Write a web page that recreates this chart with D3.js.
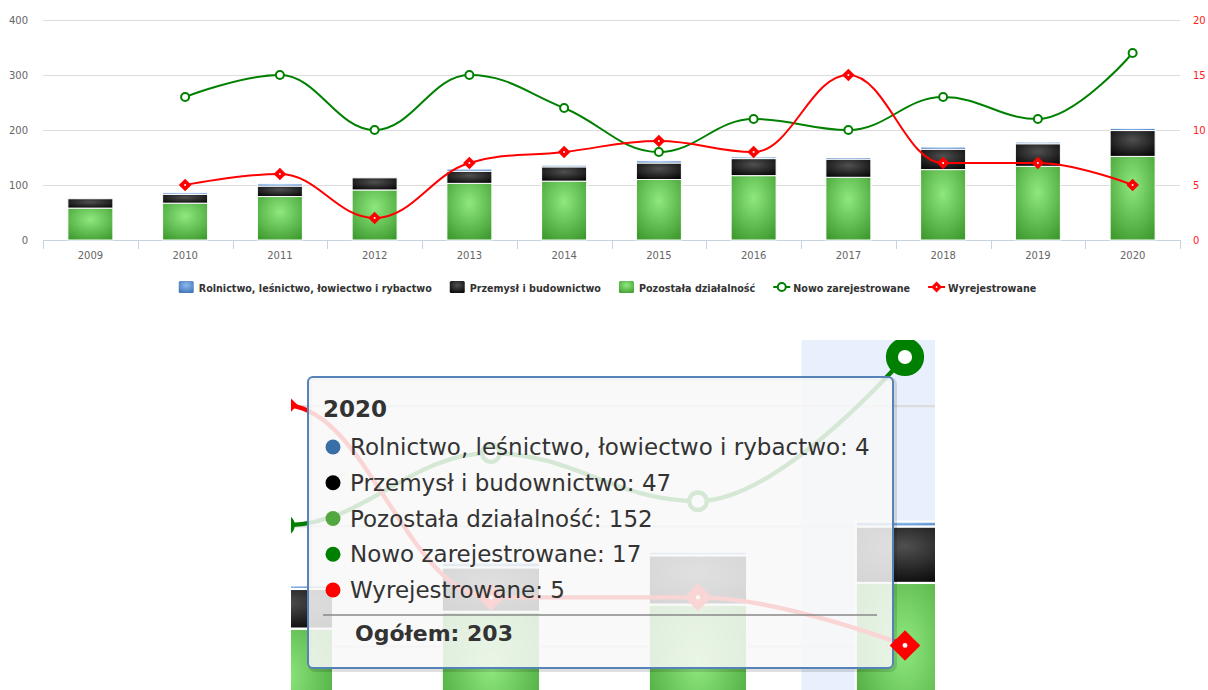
<!DOCTYPE html>
<html>
<head>
<meta charset="utf-8">
<script src="https://cdn.jsdelivr.net/npm/d3@7"></script>
<style>
  body { margin: 0; background: #fff; }
  svg { display: block; }
  text { font-family: "DejaVu Sans", Verdana, sans-serif; }
</style>
</head>
<body>
<script>
// dane
const years = [2009, 2010, 2011, 2012, 2013, 2014, 2015, 2016, 2017, 2018, 2019, 2020];
const rolnictwo = [0, 3, 4, 0, 4, 3, 4, 3, 3, 4, 3, 4];
const przemysl = [17, 16, 19, 22, 22, 26, 30, 31, 33, 37, 41, 47];
const pozostala = [58, 67, 79, 91, 103, 107, 110, 117, 114, 128, 134, 152];
const nowoZarej = [null, 13, 15, 10, 15, 12, 8, 11, 10, 13, 11, 17];
const wyrej = [null, 5, 6, 2, 7, 8, 9, 8, 15, 7, 7, 5];
const leftTicks = [0, 100, 200, 300, 400];
const rightTicks = [0, 5, 10, 15, 20];
const names = ['Rolnictwo, leśnictwo, łowiectwo i rybactwo', 'Przemysł i budownictwo',
  'Pozostała działalność', 'Nowo zarejestrowane', 'Wyrejestrowane'];
const totalLabel = 'Ogółem';
const tipIndex = 11;

const W = 1208, H = 690;
const plot = {left: 43, right: 1180, top: 20, bottom: 240};

const svg = d3.select('body').append('svg').attr('width', W).attr('height', H);
const defs = svg.append('defs');

function radial(id, c0, c1) {
  const gr = defs.append('radialGradient').attr('id', id)
    .attr('cx', 0.5).attr('cy', 0.35).attr('r', 0.75);
  gr.append('stop').attr('offset', 0).attr('stop-color', c0);
  gr.append('stop').attr('offset', 1).attr('stop-color', c1);
}
radial('gGreen', '#8ee87e', '#3f9b2f');
radial('gBlack', '#505050', '#050505');
radial('gBlue', '#8dbbef', '#3c6fb3');

const x = d3.scaleBand().domain(years).range([plot.left, plot.right]).padding(0);
const yL = d3.scaleLinear().domain([0, 400]).range([plot.bottom, plot.top]);
const yR = d3.scaleLinear().domain([0, 20]).range([plot.bottom, plot.top]);
const barW = x.bandwidth() * 0.475;
const cxOf = y => x(y) + x.bandwidth() / 2;

const table = years.map((y, i) => ({year: y, pozostala: pozostala[i], przemysl: przemysl[i], rolnictwo: rolnictwo[i]}));
const stacked = d3.stack().keys(['pozostala', 'przemysl', 'rolnictwo'])(table);
const fills = {pozostala: 'url(#gGreen)', przemysl: 'url(#gBlack)', rolnictwo: 'url(#gBlue)'};

// spline w stylu Highcharts
function spline(pts) {
  const p = d3.path();
  const sm = 1.5, den = 2.5;
  const ctl = pts.map((pt, i) => {
    if (i === 0 || i === pts.length - 1) return null;
    const [lx, ly] = pts[i - 1], [nx, ny] = pts[i + 1], [px, py] = pt;
    let lcx = (sm * px + lx) / den, lcy = (sm * py + ly) / den;
    let rcx = (sm * px + nx) / den, rcy = (sm * py + ny) / den;
    if (rcx !== lcx) {
      const corr = ((rcy - lcy) * (rcx - px)) / (rcx - lcx) + py - rcy;
      lcy += corr; rcy += corr;
    }
    if (lcy > ly && lcy > py) { lcy = Math.max(ly, py); rcy = 2 * py - lcy; }
    else if (lcy < ly && lcy < py) { lcy = Math.min(ly, py); rcy = 2 * py - lcy; }
    if (rcy > ny && rcy > py) { rcy = Math.max(ny, py); lcy = 2 * py - rcy; }
    else if (rcy < ny && rcy < py) { rcy = Math.min(ny, py); lcy = 2 * py - rcy; }
    return {lcx, lcy, rcx, rcy};
  });
  pts.forEach((pt, i) => {
    if (i === 0) { p.moveTo(pt[0], pt[1]); return; }
    const a = ctl[i - 1], b = ctl[i], prev = pts[i - 1];
    p.bezierCurveTo(a ? a.rcx : prev[0], a ? a.rcy : prev[1], b ? b.lcx : pt[0], b ? b.lcy : pt[1], pt[0], pt[1]);
  });
  return p.toString();
}

function diamond(g, cx, cy, r) {
  g.append('path').attr('d', `M${cx},${cy - r}L${cx + r},${cy}L${cx},${cy + r}L${cx - r},${cy}Z`).attr('fill', '#ff0000');
  g.append('circle').attr('cx', cx).attr('cy', cy).attr('r', r * 0.16).attr('fill', '#fff');
}

function drawChart(g, hover, withLabels) {
  if (hover != null) {
    g.append('rect').attr('x', x(years[hover])).attr('y', plot.top)
      .attr('width', x.bandwidth()).attr('height', plot.bottom - plot.top).attr('fill', '#e8f0fd');
  }
  g.append('g').selectAll('line').data(leftTicks.slice(1)).join('line')
    .attr('x1', plot.left).attr('x2', plot.right)
    .attr('y1', d => yL(d) + 0.5).attr('y2', d => yL(d) + 0.5)
    .attr('stroke', '#dcdcdc');
  g.append('line').attr('x1', plot.left).attr('x2', plot.right)
    .attr('y1', plot.bottom + 0.5).attr('y2', plot.bottom + 0.5).attr('stroke', '#c6d3e3');
  g.append('g').selectAll('line').data(years.map(y => x(y)).concat([plot.right])).join('line')
    .attr('x1', d => Math.round(d) + 0.5).attr('x2', d => Math.round(d) + 0.5)
    .attr('y1', plot.bottom).attr('y2', plot.bottom + 9).attr('stroke', '#c6d3e3');

  stacked.forEach(s => {
    g.append('g').selectAll('rect').data(s.filter(d => d[1] > d[0])).join('rect')
      .attr('x', d => cxOf(d.data.year) - barW / 2)
      .attr('y', d => yL(d[1]))
      .attr('width', barW)
      .attr('height', d => yL(d[0]) - yL(d[1]))
      .attr('fill', fills[s.key])
      .attr('stroke', '#fff').attr('stroke-width', 1);
  });

  const gPts = years.map((y, i) => [cxOf(y), nowoZarej[i]]).filter(d => d[1] != null).map(d => [d[0], yR(d[1])]);
  const rPts = years.map((y, i) => [cxOf(y), wyrej[i]]).filter(d => d[1] != null).map(d => [d[0], yR(d[1])]);
  g.append('path').attr('d', spline(gPts)).attr('fill', 'none').attr('stroke', '#008000').attr('stroke-width', 2);
  g.append('path').attr('d', spline(rPts)).attr('fill', 'none').attr('stroke', '#ff0000').attr('stroke-width', 2);
  g.append('g').selectAll('circle').data(gPts).join('circle')
    .attr('cx', d => d[0]).attr('cy', d => d[1]).attr('r', 4)
    .attr('fill', '#fff').attr('stroke', '#008000').attr('stroke-width', 2);
  const dg = g.append('g');
  rPts.forEach(d => diamond(dg, d[0], d[1], 6.3));

  if (!withLabels) return;
  // osie
  const ax = g.append('g').attr('transform', `translate(0,${plot.bottom})`)
    .call(d3.axisBottom(x).tickSize(0).tickPadding(12));
  ax.select('.domain').remove();
  ax.selectAll('text').attr('font-size', 10).attr('fill', '#666').attr('font-family', 'DejaVu Sans');
  const al = g.append('g').attr('transform', `translate(28,0)`)
    .call(d3.axisLeft(yL).tickValues(leftTicks).tickSize(0).tickPadding(0));
  al.select('.domain').remove();
  al.selectAll('text').attr('font-size', 10).attr('fill', '#666').attr('font-family', 'DejaVu Sans');
  const ar = g.append('g').attr('transform', `translate(1193,0)`)
    .call(d3.axisRight(yR).tickValues(rightTicks).tickSize(0).tickPadding(0));
  ar.select('.domain').remove();
  ar.selectAll('text').attr('font-size', 10).attr('fill', '#ff2020').attr('font-family', 'DejaVu Sans');
}

drawChart(svg.append('g'), null, true);

// legenda
const leg = svg.append('g');
const legY = 287;
const items = leg.selectAll('g').data(names).join('g');
items.append('text').text(d => d).attr('x', 20).attr('y', legY + 4.5)
  .attr('font-size', 9.6).attr('font-weight', 'bold').attr('fill', '#333');
items.each(function(d, i) {
  const it = d3.select(this);
  if (i < 3) {
    it.append('rect').attr('x', 0).attr('y', legY - 6).attr('width', 15).attr('height', 12)
      .attr('rx', 1.5).attr('fill', ['url(#gBlue)', 'url(#gBlack)', 'url(#gGreen)'][i]);
  } else if (i === 3) {
    it.append('line').attr('x1', 0).attr('x2', 17).attr('y1', legY).attr('y2', legY).attr('stroke', '#008000').attr('stroke-width', 2);
    it.append('circle').attr('cx', 8.5).attr('cy', legY).attr('r', 4).attr('fill', '#fff').attr('stroke', '#008000').attr('stroke-width', 2);
  } else {
    it.append('line').attr('x1', 0).attr('x2', 17).attr('y1', legY).attr('y2', legY).attr('stroke', '#ff0000').attr('stroke-width', 2);
    diamond(it, 8.5, legY, 5.5);
  }
});
let widths = [];
items.select('text').each(function() { widths.push(20 + this.getComputedTextLength()); });
const totalW = d3.sum(widths) + 18 * (widths.length - 1);
let cur = 607.5 - totalW / 2;
items.attr('transform', (d, i) => { const t = `translate(${cur},0)`; cur += widths[i] + 18; return t; });

// powiększony fragment z dymkiem
const s = 2.185;
const ix = 291, iy = 340, iw = 644, ih = 350;
const ancX = 905, ancY = 357;
const mainX = cxOf(years[tipIndex]), mainY = yR(nowoZarej[tipIndex]);
const vb = [mainX - (ancX - ix) / s, mainY - (ancY - iy) / s, iw / s, ih / s].join(' ');
const inset = svg.append('svg').attr('x', ix).attr('y', iy).attr('width', iw).attr('height', ih)
  .attr('viewBox', vb).attr('overflow', 'hidden');
drawChart(inset.append('g'), tipIndex, false);

// dymek
const tip = svg.append('g');
const tx0 = 308, ty0 = 377, tx1 = 893, ty1 = 668;
tip.append('rect').attr('x', tx0 + 2).attr('y', ty0 + 2).attr('width', tx1 - tx0).attr('height', ty1 - ty0)
  .attr('rx', 5).attr('fill', 'none').attr('stroke', '#000').attr('stroke-opacity', 0.12).attr('stroke-width', 4);
tip.append('rect').attr('x', tx0).attr('y', ty0).attr('width', tx1 - tx0).attr('height', ty1 - ty0)
  .attr('rx', 5).attr('fill', 'rgba(248,248,248,0.86)').attr('stroke', '#5583b8').attr('stroke-width', 2);
tip.append('text').attr('x', 323).attr('y', 417).text(years[tipIndex])
  .attr('font-size', 23).attr('font-weight', 'bold').attr('fill', '#333');
const tipVals = [rolnictwo[tipIndex], przemysl[tipIndex], pozostala[tipIndex], nowoZarej[tipIndex], wyrej[tipIndex]];
const bulletCols = ['#3a6ea8', '#000', '#52a83e', '#008000', '#ff0000'];
const rowY = d3.scaleLinear().domain([0, 4]).range([455, 598]);
const rows = tip.selectAll('g.row').data(names).join('g');
rows.append('circle').attr('cx', 333).attr('cy', (d, i) => rowY(i) - 8).attr('r', 7.5).attr('fill', (d, i) => bulletCols[i]);
rows.append('text').attr('x', 350).attr('y', (d, i) => rowY(i))
  .text((d, i) => `${d}: ${tipVals[i]}`).attr('font-size', 23).attr('fill', '#333');
tip.append('line').attr('x1', 323).attr('x2', 877).attr('y1', 615).attr('y2', 615)
  .attr('stroke', '#888').attr('stroke-width', 1.6);
tip.append('text').attr('x', 355).attr('y', 641)
  .text(`${totalLabel}: ${rolnictwo[tipIndex] + przemysl[tipIndex] + pozostala[tipIndex]}`)
  .attr('font-size', 22).attr('font-weight', 'bold').attr('fill', '#333');

// znaczniki w stanie hover nad dymkiem
const hov = svg.append('svg').attr('x', ix).attr('y', iy).attr('width', iw).attr('height', ih)
  .attr('viewBox', vb).attr('overflow', 'hidden');
hov.append('circle').attr('cx', mainX).attr('cy', yR(nowoZarej[tipIndex])).attr('r', 6)
  .attr('fill', '#fff').attr('stroke', '#008000').attr('stroke-width', 5.5);
diamond(hov.append('g'), mainX, yR(wyrej[tipIndex]), 7);
</script>
</body>
</html>
